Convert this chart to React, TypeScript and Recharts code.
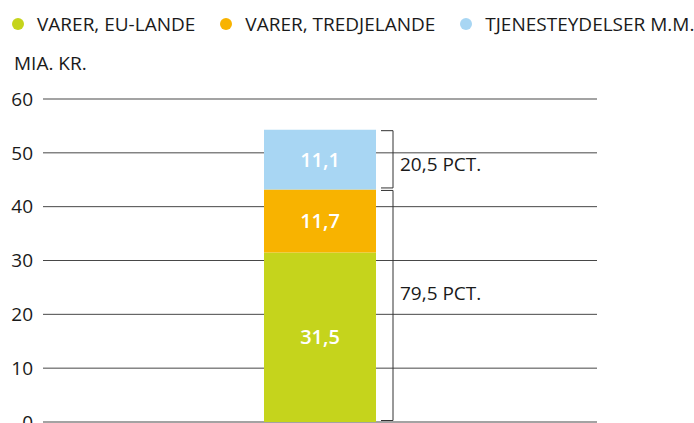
import { Bar, BarChart, CartesianGrid, LabelList, Legend, ReferenceArea, XAxis, YAxis } from "recharts";

const categories = ["I alt"];
const seriesNames = ["VARER, EU-LANDE", "VARER, TREDJELANDE", "TJENESTEYDELSER M.M."];
const euGoods = [31.5];
const thirdCountryGoods = [11.7];
const services = [11.1];
const yTicks = [0, 10, 20, 30, 40, 50, 60];
const shareLabels = ["20,5 PCT.", "79,5 PCT."];

const COLORS = ["#c5d41c", "#f8b300", "#a8d6f3"];
const TEXT = "#1a1a1a";
const FONT_SIZE = 19;
const BAR_SIZE = 112;
const LABEL_DY = [5, -12];

const data = categories.map((name, i) => ({
  name,
  eu: euGoods[i],
  third: thirdCountryGoods[i],
  services: services[i],
}));

const goodsTotal = euGoods[0] + thirdCountryGoods[0];
const total = goodsTotal + services[0];
const brackets = [
  { y1: goodsTotal, y2: total, label: shareLabels[0], dy: LABEL_DY[0] },
  { y1: 0, y2: goodsTotal, label: shareLabels[1], dy: LABEL_DY[1] },
];

const fmt = (v: unknown) => String(v).replace(".", ",");

function LegendRow() {
  return (
    <div style={{ display: "flex", alignItems: "center", gap: 25, paddingLeft: 12 }}>
      {seriesNames.map((name, i) => (
        <div key={name} style={{ display: "flex", alignItems: "center", gap: 13 }}>
          <span style={{ width: 12, height: 12, borderRadius: 6, background: COLORS[i], display: "inline-block" }} />
          <span style={{ fontSize: FONT_SIZE, color: TEXT, lineHeight: "20px", whiteSpace: "nowrap" }}>{name}</span>
        </div>
      ))}
    </div>
  );
}

function Bracket(props: any) {
  const { x, y, width, height, label, dy } = props;
  const bx = x + width / 2 + BAR_SIZE / 2 + 5;
  const top = y + 1;
  const bottom = y + height - 1.5;
  return (
    <g>
      <path d={`M${bx},${top}H${bx + 12}V${bottom}H${bx}`} fill="none" stroke="#333" strokeWidth={1} />
      <text x={bx + 19} y={(top + bottom) / 2 + dy} dy="0.355em" fontSize={FONT_SIZE} fill={TEXT}>
        {label}
      </text>
    </g>
  );
}

export default function App() {
  return (
    <div style={{ position: "absolute", left: 0, top: 0, width: 694, height: 423, fontFamily: "'Open Sans', sans-serif", background: "#fff" }}>
      <BarChart width={694} height={423} data={data} margin={{ top: 99, right: 97, bottom: 1, left: 0 }}>
        <CartesianGrid vertical={false} stroke="#333" strokeOpacity={0.9} />
        <XAxis dataKey="name" hide />
        <YAxis
          domain={[0, 60]}
          ticks={yTicks}
          interval={0}
          width={43}
          axisLine={false}
          tickLine={false}
          tickSize={0}
          tickMargin={10}
          tick={{ fill: TEXT, fontSize: FONT_SIZE }}
          label={{
            content: ({ viewBox }: any) => (
              <text x={14} y={(viewBox?.y ?? 99) - 29} fontSize={FONT_SIZE} fill={TEXT}>
                MIA. KR.
              </text>
            ),
          }}
        />
        <Legend
          verticalAlign="middle"
          align="center"
          layout="horizontal"
          wrapperStyle={{ left: 0, top: 14, width: 694 }}
          content={LegendRow}
        />
        {brackets.map((b) => (
          <ReferenceArea
            key={b.label}
            y1={b.y1}
            y2={b.y2}
            ifOverflow="visible"
            shape={(p: any) => <Bracket {...p} label={b.label} dy={b.dy} />}
          />
        ))}
        <Bar dataKey="eu" name={seriesNames[0]} stackId="a" fill={COLORS[0]} barSize={BAR_SIZE} isAnimationActive={false}>
          <LabelList dataKey="eu" position="center" formatter={fmt} fill="#fff" fontSize={20} fontWeight={600} />
        </Bar>
        <Bar dataKey="third" name={seriesNames[1]} stackId="a" fill={COLORS[1]} barSize={BAR_SIZE} isAnimationActive={false}>
          <LabelList dataKey="third" position="center" formatter={fmt} fill="#fff" fontSize={20} fontWeight={600} />
        </Bar>
        <Bar dataKey="services" name={seriesNames[2]} stackId="a" fill={COLORS[2]} barSize={BAR_SIZE} isAnimationActive={false}>
          <LabelList dataKey="services" position="center" formatter={fmt} fill="#fff" fontSize={20} fontWeight={600} />
        </Bar>
      </BarChart>
    </div>
  );
}
